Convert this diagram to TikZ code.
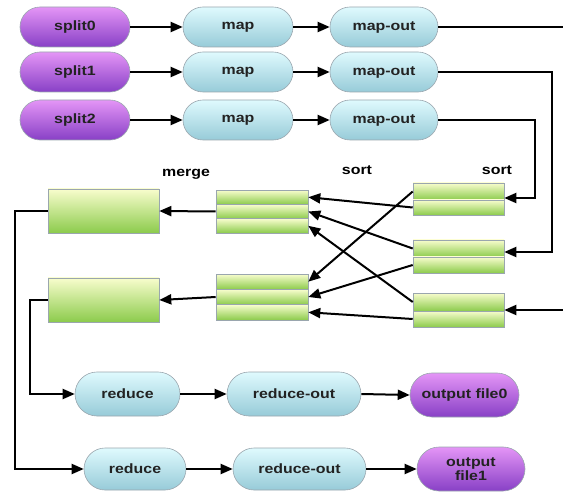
\documentclass[tikz,border=0pt]{standalone}
\usepackage{fontspec}
\newfontfamily\lblfont[FakeStretch=1.18]{Liberation Sans}
\usetikzlibrary{arrows.meta}

\definecolor{purpleT}{HTML}{E495F6}
\definecolor{purpleB}{HTML}{8840C6}
\definecolor{cyanT}{HTML}{DFFAFE}
\definecolor{cyanB}{HTML}{97CBD8}
\definecolor{greenT}{HTML}{F8FDCD}
\definecolor{greenB}{HTML}{8CCB4C}
\definecolor{edgegray}{HTML}{9AA6AE}
\definecolor{txtgray}{HTML}{222222}

\tikzset{
  lbl/.style={font=\lblfont\bfseries\fontsize{13.5}{14}\selectfont},
  pill/.style={rectangle, rounded corners=20pt, minimum height=40pt,
    draw=edgegray, line width=0.6pt, inner sep=0pt, lbl, text=txtgray},
  tall/.style={rounded corners=22pt, minimum height=44pt},
  inpill/.style={pill, top color=purpleT, bottom color=purpleB},
  job/.style={pill, top color=cyanT, bottom color=cyanB},
  stripe/.style={rectangle, draw=edgegray, line width=0.6pt, inner sep=0pt,
    top color=greenT, bottom color=greenB},
  rstripe/.style={stripe, minimum width=91pt},
  mstripe/.style={stripe, minimum width=92pt, minimum height=14.3pt},
  mergebox/.style={stripe, minimum width=111pt, minimum height=44pt},
  flow/.style={line width=2pt, -{Triangle[length=12pt,width=10pt]}},
  wire/.style={line width=2pt},
}

\begin{document}
\begin{tikzpicture}[x=1pt,y=-1pt]
\useasboundingbox (0,0) rectangle (563,492);

% input splits, map tasks and their outputs
\foreach \r/\y in {0/27,1/72,2/120}{
  \node[inpill, minimum width=110pt] (s\r) at (75,\y) {split\r};
  \node[job, minimum width=110pt] (m\r) at (238,\y) {map};
  \node[job, minimum width=108pt] (o\r) at (384,\y) {map-out};
  \draw[flow] (s\r.east) -- (m\r.west);
  \draw[flow] (m\r.east) -- (o\r.west);
}

% labels
\node[lbl] (mergelbl) at (186,174) {merge};
\node[lbl] (sortmid) at (357,170) {sort};
\node[lbl] (sortright) at (497,170) {sort};

% sorted map outputs, two partitions each
\node[rstripe, minimum height=17pt] (r1a) at (458.5,191.5) {};
\node[rstripe, minimum height=15pt] (r1b) at (458.5,207.5) {};
\node[rstripe, minimum height=17pt] (r2a) at (458.5,248.5) {};
\node[rstripe, minimum height=16pt] (r2b) at (458.5,265) {};
\node[rstripe, minimum height=18pt] (r3a) at (458.5,302) {};
\node[rstripe, minimum height=16pt] (r3b) at (458.5,319) {};

% copied partitions on the reduce side
\node[mstripe] (a1) at (262,197.2) {};
\node[mstripe] (a2) at (262,211.5) {};
\node[mstripe] (a3) at (262,225.8) {};
\node[mstripe, minimum height=15.3pt] (b1) at (262,281.7) {};
\node[mstripe, minimum height=15.3pt] (b2) at (262,297) {};
\node[mstripe, minimum height=15.3pt] (b3) at (262,312.3) {};

% merged inputs
\node[mergebox] (mg1) at (103.5,211) {};
\node[mergebox] (mg2) at (103.5,300) {};

% reduce tasks and output files
\node[job, tall, minimum width=105pt] (rd1) at (127.5,394) {reduce};
\node[job, tall, minimum width=134pt] (ro1) at (294,394) {reduce-out};
\node[inpill, tall, minimum width=109pt] (of0) at (464.5,395) {output file0};
\node[job, rounded corners=21pt, minimum height=42pt, minimum width=102pt] (rd2) at (135,469) {reduce};
\node[job, rounded corners=21pt, minimum height=42pt, minimum width=133pt] (ro2) at (299.5,469) {reduce-out};
\node[inpill, tall, minimum width=108pt, align=center] (of1) at (471,469) {output\\file1};

% map outputs feeding the sort step
\coordinate (edgeA) at (563,27);
\coordinate (edgeB) at (563,310);
\coordinate (bend1) at (552,252);
\coordinate (bend2) at (535,198);
\draw[wire] (o0.east) -- (edgeA);
\draw[flow] (o1.east) -| (bend1) -- (bend1 -| r2a.east);
\draw[flow] (o2.east) -| (bend2) -- (bend2 -| r1a.east);
\draw[flow] (edgeB) -- (edgeB -| r3a.east);

% shuffle: each partition goes to its reducer
\draw[flow] (r1b.west) -- (a1.east);
\draw[flow] (r1a.west) -- (b1.east);
\draw[flow] (r2a.west) -- (a2.east);
\draw[flow] (r2b.west) -- (b2.east);
\draw[flow] (r3a.west) -- (a3.east);
\draw[flow] (r3b.west) -- (b3.east);

% merge
\draw[flow] (a2.west) -- (mg1.east);
\draw[flow] (b2.west) -- (mg2.east);

% merged data into the reducers
\coordinate (railA) at (15,469);
\coordinate (railB) at (30,394);
\draw[flow] (mg1.west) -| (railA) -- (rd2.west);
\draw[flow] (mg2.west) -| (railB) -- (rd1.west);

\draw[flow] (rd1.east) -- (ro1.west);
\draw[flow] (ro1.east) -- (of0.west);
\draw[flow] (rd2.east) -- (ro2.west);
\draw[flow] (ro2.east) -- (of1.west);
\end{tikzpicture}
\end{document}
